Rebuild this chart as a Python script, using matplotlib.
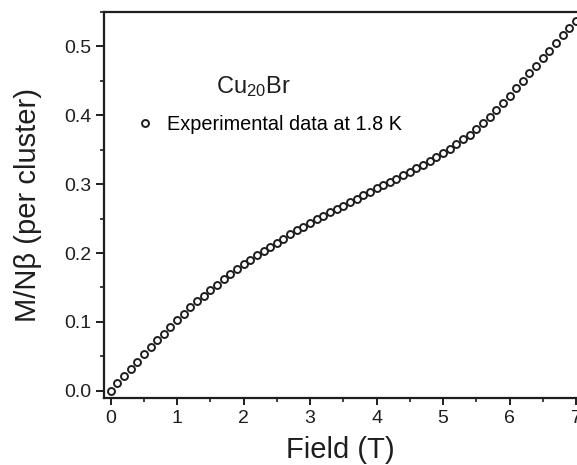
import numpy as np
import matplotlib
matplotlib.use('Agg')
from matplotlib import pyplot as plt
from matplotlib.ticker import MultipleLocator, FormatStrFormatter

plt.rcParams['font.family'] = ['Liberation Sans', 'DejaVu Sans']
plt.rcParams['mathtext.default'] = 'regular'

# field (T), 0 to 7 in 0.1 T steps
field = [0.0, 0.1, 0.2, 0.3, 0.4, 0.5, 0.6, 0.7, 0.8, 0.9,
         1.0, 1.1, 1.2, 1.3, 1.4, 1.5, 1.6, 1.7, 1.8, 1.9,
         2.0, 2.1, 2.2, 2.3, 2.4, 2.5, 2.6, 2.7, 2.8, 2.9,
         3.0, 3.1, 3.2, 3.3, 3.4, 3.5, 3.6, 3.7, 3.8, 3.9,
         4.0, 4.1, 4.2, 4.3, 4.4, 4.5, 4.6, 4.7, 4.8, 4.9,
         5.0, 5.1, 5.2, 5.3, 5.4, 5.5, 5.6, 5.7, 5.8, 5.9,
         6.0, 6.1, 6.2, 6.3, 6.4, 6.5, 6.6, 6.7, 6.8, 6.9,
         7.0]
# M/Nbeta per cluster
magn = [0.000, 0.011, 0.021, 0.032, 0.042, 0.053, 0.063, 0.073, 0.083, 0.093,
        0.103, 0.112, 0.121, 0.130, 0.138, 0.146, 0.154, 0.162, 0.169, 0.177,
        0.184, 0.190, 0.197, 0.203, 0.209, 0.215, 0.221, 0.227, 0.233, 0.238,
        0.244, 0.249, 0.254, 0.259, 0.264, 0.269, 0.274, 0.279, 0.284, 0.289,
        0.294, 0.299, 0.303, 0.308, 0.313, 0.318, 0.323, 0.328, 0.333, 0.339,
        0.345, 0.351, 0.358, 0.365, 0.372, 0.380, 0.389, 0.398, 0.408, 0.418,
        0.428, 0.439, 0.450, 0.461, 0.472, 0.483, 0.494, 0.505, 0.516, 0.527,
        0.537]

ink = '#1e1e1e'

fig = plt.figure(figsize=(5.77, 4.65), dpi=100)
ax = fig.add_axes([0.1802, 0.1441, 0.8198, 0.830])

ax.plot(field, magn, 'o', mfc='white', mec=ink, ms=5, mew=1.4,
        label='Experimental data at 1.8 K')

ax.set_xlim(-0.1, 7.015)
ax.set_ylim(-0.0106, 0.55)

ax.xaxis.set_major_locator(MultipleLocator(1))
ax.xaxis.set_minor_locator(MultipleLocator(0.5))
ax.yaxis.set_major_locator(MultipleLocator(0.1))
ax.yaxis.set_minor_locator(MultipleLocator(0.05))
ax.yaxis.set_major_formatter(FormatStrFormatter('%.1f'))

ax.spines['right'].set_visible(False)
for s in ['left', 'bottom', 'top']:
    ax.spines[s].set_linewidth(1.6)
    ax.spines[s].set_color(ink)

ax.tick_params(which='major', direction='out', length=5, width=1.4,
               labelsize=14, colors=ink, pad=4)
ax.tick_params(which='minor', direction='out', length=3, width=1.2,
               colors=ink)
ax.tick_params(axis='y', which='major', length=6, pad=3)

ax.set_xlabel('Field (T)', fontsize=21, labelpad=6, color=ink)
ax.set_ylabel('M/Nβ (per cluster)', fontsize=21, labelpad=16, color=ink)

ax.text(2.15, 0.432, 'Cu$_{20}$Br', fontsize=17, ha='center', va='baseline',
        color=ink)
ax.legend(loc='upper left', bbox_to_anchor=(0.015, 0.78), frameon=False,
          fontsize=14.3, handletextpad=0.3, markerscale=1.0, handlelength=1.6)

fig.savefig('out.png', dpi=100)
